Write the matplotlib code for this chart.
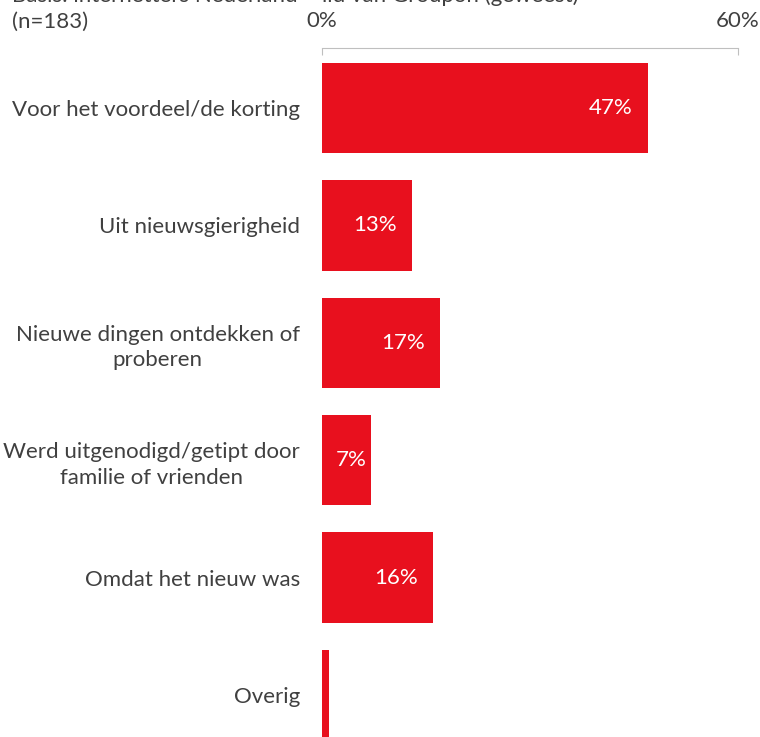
import numpy as np
import matplotlib.pyplot as plt

plt.rcParams['font.family'] = ['Lato', 'DejaVu Sans']

categories = [
    'Voor het voordeel/de korting',
    'Uit nieuwsgierigheid',
    'Nieuwe dingen ontdekken of\nproberen',
    'Werd uitgenodigd/getipt door\nfamilie of vrienden',
    'Omdat het nieuw was',
    'Overig',
]
values = [47, 13, 17, 7, 16, 1]
labels = ['47%', '13%', '17%', '7%', '16%', '']

red = '#E8101E'
grey = '#404040'
fs = 16

fig = plt.figure(figsize=(7.6, 7.37), dpi=100)
ax = fig.add_axes([322/760, 0, (738-322)/760, 689/737])

y = np.arange(len(categories))
ax.barh(y, values, height=0.77, color=red)

for yi, v, lab in zip(y, values, labels):
    if not lab:
        continue
    off = 2.2 if v > 10 else 0.6
    ax.text(v - off, yi, lab, ha='right', va='center', color='white', fontsize=fs)

ax.set_xlim(0, 60)
ax.set_ylim(5.358, -0.511)

ax.set_yticks(y)
ax.set_yticklabels(categories, fontsize=fs, color=grey)
for t in ax.get_yticklabels():
    t.set_multialignment('center')
    t.set_linespacing(1.35)
ax.tick_params(axis='y', length=0, pad=16)

ax.xaxis.tick_top()
ax.set_xticks([0, 60])
ax.set_xticklabels(['0%', '60%'], fontsize=fs, color=grey)
ax.tick_params(axis='x', direction='in', length=5, color='#bfbfbf', pad=12)

for s in ['left', 'right', 'bottom']:
    ax.spines[s].set_visible(False)
ax.spines['top'].set_color('#bfbfbf')

# header: first line runs off the top edge
fig.text(12/760, 1 + 4/737, 'Basis: internetters Nederland \u2013 lid van Groupon (geweest)',
         ha='left', va='center', fontsize=fs, color=grey)
fig.text(12/760, 1 - 22/737, '(n=183)', ha='left', va='center', fontsize=fs, color=grey)

fig.savefig('out.png', dpi=100)
